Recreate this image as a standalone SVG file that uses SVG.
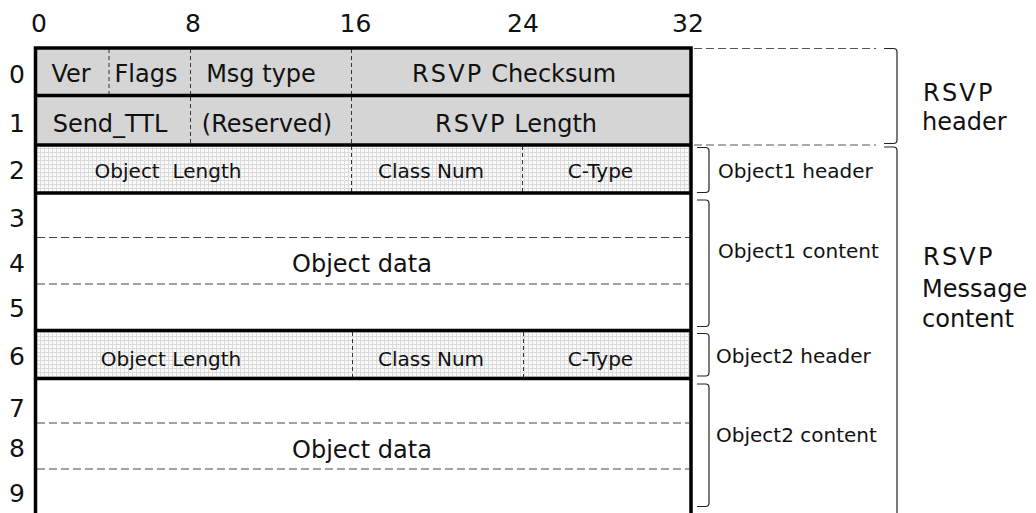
<svg xmlns="http://www.w3.org/2000/svg" width="1036" height="513" viewBox="0 0 1036 513">
<defs>
<pattern id="grid" x="0" y="0" width="4" height="4" patternUnits="userSpaceOnUse">
<rect width="4" height="4" fill="#fafafa"/>
<path d="M0.5,0 V4 M0,0.5 H4" stroke="#dadada" stroke-width="1"/>
</pattern>
</defs>
<style>
text{font-family:"DejaVu Sans","Noto Sans",sans-serif;fill:#111}
.num{font-size:25px;text-anchor:middle}
.big{font-size:24px;text-anchor:middle}
.sm{font-size:20px;text-anchor:middle}
.lab{font-size:20px}
.side{font-size:24px}
.rs{letter-spacing:2.2px}
.grey{fill:#d5d5d5}
.gridf{fill:url(#grid)}
.white{fill:#ffffff}
.vdash{stroke:#333;stroke-width:1;stroke-dasharray:4 3;fill:none}
.hdash{stroke:#444;stroke-width:1;stroke-dasharray:8 4;fill:none}
.thick{stroke:#000;stroke-width:3.5;fill:none}
.br{stroke:#222;stroke-width:1.2;fill:none}
.bdash{stroke:#555;stroke-width:1;stroke-dasharray:8 4;fill:none}
</style>

<g id="bit-labels">
<text class="num" x="39" y="31.5">0</text>
<text class="num" x="193" y="31.5">8</text>
<text class="num" x="355.5" y="31.5">16</text>
<text class="num" x="523" y="31.5">24</text>
<text class="num" x="688" y="31.5">32</text>
</g>

<g id="row-labels">
<text class="num" x="17" y="83">0</text>
<text class="num" x="17" y="132">1</text>
<text class="num" x="17" y="178.5">2</text>
<text class="num" x="17" y="226.5">3</text>
<text class="num" x="17" y="271.5">4</text>
<text class="num" x="17" y="317">5</text>
<text class="num" x="17" y="365">6</text>
<text class="num" x="17" y="417">7</text>
<text class="num" x="17" y="457">8</text>
<text class="num" x="17" y="502">9</text>
</g>

<g id="row0">
<rect class="grey" x="35.5" y="48" width="655.5" height="47.5"/>
<line class="vdash" x1="109" y1="49" x2="109" y2="95"/>
<line class="vdash" x1="190.5" y1="49" x2="190.5" y2="144"/>
<line class="vdash" x1="351.5" y1="49" x2="351.5" y2="193"/>
<text class="big" x="71" y="81.5">Ver</text>
<text class="big" x="146" y="81.5">Flags</text>
<text class="big" x="261" y="81.5">Msg type</text>
<text class="big" x="514" y="81.5"><tspan class="rs">RSVP</tspan> Checksum</text>
</g>

<g id="row1">
<rect class="grey" x="35.5" y="95.5" width="655.5" height="49.5"/>
<line class="vdash" x1="190.5" y1="97" x2="190.5" y2="144"/>
<line class="vdash" x1="351.5" y1="97" x2="351.5" y2="144"/>
<text class="big" x="110" y="131.5">Send_TTL</text>
<text class="big" x="267" y="131.5">(Reserved)</text>
<text class="big" x="516" y="131.5"><tspan class="rs">RSVP</tspan> Length</text>
</g>

<g id="row2">
<rect class="gridf" x="35.5" y="145" width="655.5" height="48"/>
<line class="vdash" x1="351.5" y1="146" x2="351.5" y2="192"/>
<line class="vdash" x1="522.5" y1="146" x2="522.5" y2="192"/>
<text class="sm" x="168" y="178" style="white-space:pre" xml:space="preserve">Object  Length</text>
<text class="sm" x="431" y="178">Class Num</text>
<text class="sm" x="600.5" y="178">C-Type</text>
</g>

<g id="object1-data">
<rect class="white" x="35.5" y="193" width="655.5" height="137.5"/>
<line class="hdash" x1="37" y1="237.5" x2="689" y2="237.5"/>
<line class="hdash" x1="37" y1="284" x2="689" y2="284"/>
<text class="big" x="362" y="272">Object data</text>
</g>

<g id="row6">
<rect class="gridf" x="35.5" y="330.5" width="655.5" height="48"/>
<line class="vdash" x1="352.5" y1="332" x2="352.5" y2="377"/>
<line class="vdash" x1="523.5" y1="332" x2="523.5" y2="377"/>
<text class="sm" x="171" y="366">Object Length</text>
<text class="sm" x="431" y="366">Class Num</text>
<text class="sm" x="600.5" y="366">C-Type</text>
</g>

<g id="object2-data">
<rect class="white" x="35.5" y="378.5" width="655.5" height="140"/>
<line class="hdash" x1="37" y1="423" x2="689" y2="423"/>
<line class="hdash" x1="37" y1="469" x2="689" y2="469"/>
<text class="big" x="362" y="458">Object data</text>
</g>

<g id="borders">
<path class="thick" d="M35.5,520 V48 H691 V520"/>
<path class="thick" d="M35.5,95.5 H691 M35.5,145 H691 M35.5,193 H691 M35.5,330.5 H691 M35.5,378.5 H691"/>
</g>

<g id="connectors">
<line class="bdash" x1="694" y1="48.5" x2="876" y2="48.5"/>
<line class="bdash" x1="694" y1="145" x2="876" y2="145"/>
<path class="br" d="M884,48.5 H893.5 Q897,48.5 897,52 V140 Q897,143.5 893.5,143.5 H884"/>
<path class="br" d="M884,147 H893.5 Q897,147 897,150.5 V520"/>
<path class="br" d="M697,147.5 H705.5 Q709,147.5 709,151 V189 Q709,192.5 705.5,192.5 H697"/>
<path class="br" d="M697,200 H705.5 Q709,200 709,203.5 V323 Q709,326.5 705.5,326.5 H697"/>
<path class="br" d="M697,333.5 H705.5 Q709,333.5 709,337 V372.5 Q709,376 705.5,376 H697"/>
<path class="br" d="M697,384 H705.5 Q709,384 709,387.5 V503 Q709,506.5 705.5,506.5 H697"/>
</g>

<g id="annotations">
<text class="lab" x="718" y="178">Object1 header</text>
<text class="lab" x="718" y="258">Object1 content</text>
<text class="lab" x="716" y="363">Object2 header</text>
<text class="lab" x="716" y="442">Object2 content</text>
<text class="side" x="923" y="100.5"><tspan class="rs">RSVP</tspan></text>
<text class="side" x="922" y="130">header</text>
<text class="side" x="923" y="265"><tspan class="rs">RSVP</tspan></text>
<text class="side" x="922" y="296.5">Message</text>
<text class="side" x="922" y="326.5">content</text>
</g>
</svg>
